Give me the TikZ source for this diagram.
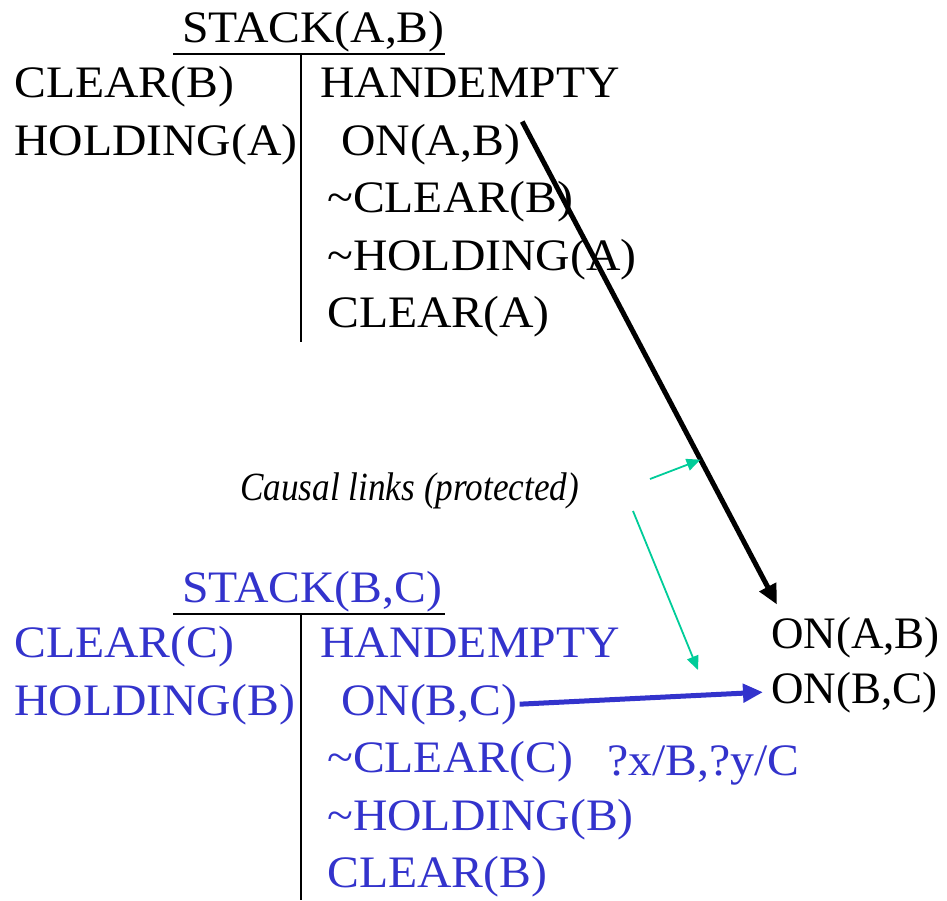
\documentclass[tikz,border=0pt]{standalone}
\usepackage{fontspec}
\setmainfont{Liberation Serif}[FakeStretch=1.06]
\newfontfamily\goalfont{Liberation Serif}
\newfontfamily\causalfont{Liberation Serif}[FakeStretch=0.88]
\usetikzlibrary{arrows.meta}
\definecolor{planblue}{RGB}{51,51,204}
\definecolor{linkteal}{RGB}{0,204,153}
\begin{document}
\begin{tikzpicture}[x=1pt,y=-1pt,
  lit/.style={anchor=base west,inner sep=0pt,font=\fontsize{45}{50}\selectfont},
  goallit/.style={anchor=base west,inner sep=0pt,font=\goalfont\fontsize{45}{50}\selectfont},
  rule/.style={line width=2.2pt},
  mainarrow/.style={line width=5pt,-{Triangle[length=20pt,width=18pt]}},
  linkarrow/.style={linkteal,line width=1.8pt,-{Triangle[length=14pt,width=12pt]}}]
\useasboundingbox (0,0) rectangle (947,900);
% ---- top step STACK(A,B)
\node[lit] (stackab) at (182,42) {STACK(A,B)};
\coordinate (ulA1) at (173,54);
\coordinate (ulA2) at (445,54);
\draw[rule] (ulA1) -- (ulA2);
\coordinate (vA1) at (301,54);
\coordinate (vA2) at (301,342);
\draw[rule] (vA1) -- (vA2);
\node[lit] (clearb) at (14,97) {CLEAR(B)};
\node[lit] (holda) at (14,155) {HOLDING(A)};
\node[lit] (hemptyA) at (320,97) {HANDEMPTY};
\node[lit] (onab) at (341,155) {ON(A,B)};
\node[lit] (nclearb) at (327,212) {\textasciitilde CLEAR(B)};
\node[lit] (nholda) at (327,270) {\textasciitilde HOLDING(A)};
\node[lit] (cleara) at (327,327) {CLEAR(A)};
% ---- bottom step STACK(B,C)
\begin{scope}[every node/.append style={text=planblue}]
\node[lit] (stackbc) at (182,602) {STACK(B,C)};
\node[lit] (clearc) at (14,657) {CLEAR(C)};
\node[lit] (holdb) at (14,715) {HOLDING(B)};
\node[lit] (hemptyB) at (320,657) {HANDEMPTY};
\node[lit] (onbc) at (341,715) {ON(B,C)};
\node[lit] (nclearc) at (327,772) {\textasciitilde CLEAR(C)};
\node[lit] (nholdb) at (327,830) {\textasciitilde HOLDING(B)};
\node[lit] (clearbB) at (327,887) {CLEAR(B)};
\node[lit] (bind) at (607,775) {?x/B,?y/C};
\end{scope}
\coordinate (ulB1) at (173,614);
\coordinate (ulB2) at (445,614);
\draw[rule] (ulB1) -- (ulB2);
\coordinate (vB1) at (301,614);
\coordinate (vB2) at (301,900);
\draw[rule] (vB1) -- (vB2);
% ---- goal
\node[goallit] (goalab) at (771,648) {ON(A,B)};
\node[goallit] (goalbc) at (771,703) {ON(B,C)};
% ---- causal links
\node[anchor=base west,inner sep=0pt,font=\causalfont\fontsize{40}{44}\selectfont\itshape] (causal) at (240,500) {Causal links (protected)};
\draw[mainarrow] ([shift={(2,-2)}]onab.north east) -- coordinate[pos=0.70] (k1) ([shift={(6,-12)}]goalab.north west);
\draw[mainarrow,planblue] ([xshift=2pt]onbc.east) -- ([xshift=-8pt]goalbc.west);
\coordinate (t1s) at (650,479);
\coordinate (t2s) at (633,511);
\coordinate (t2e) at (698,670);
\draw[linkarrow] (t1s) -- (k1);
\draw[linkarrow] (t2s) -- (t2e);
\end{tikzpicture}
\end{document}
